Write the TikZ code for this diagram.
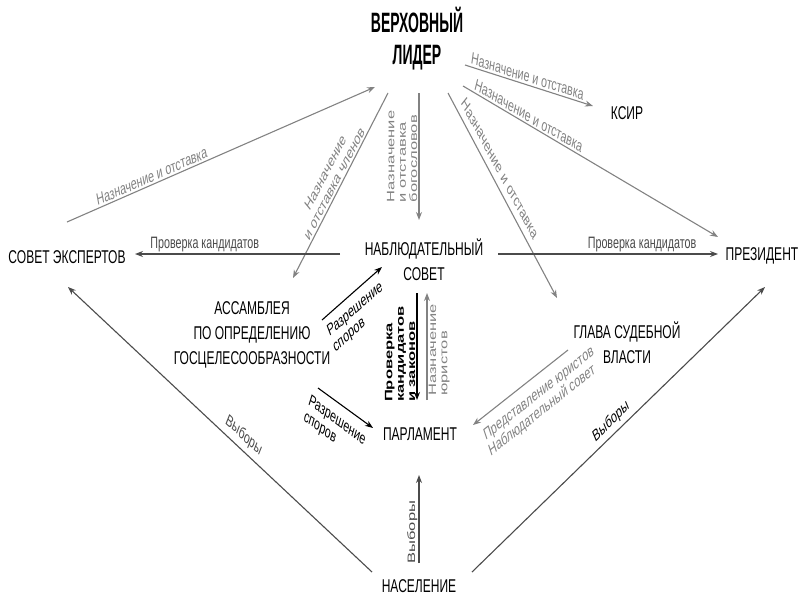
\documentclass[tikz,border=0pt]{standalone}
\usepackage{fontspec}
\setmainfont{Liberation Sans}
\usepackage{tikz}
\usetikzlibrary{arrows.meta}
\definecolor{mygray}{RGB}{130,130,130}
\definecolor{mydark}{RGB}{75,75,75}
\tikzset{
  squish/.style={xscale=0.65},
  box/.style={squish, align=center, inner sep=0pt, font=\fontsize{18.5}{25}\selectfont},
  title/.style={xscale=0.5, align=center, inner sep=0pt, font=\bfseries\fontsize{28}{32}\selectfont},
  lbl/.style={squish, inner sep=2pt, font=\fontsize{16.5}{17.5}\selectfont},
  gline/.style={->, draw=mygray},
  dline/.style={->, draw=mydark},
  bline/.style={->, draw=black},
  gtxt/.style={text=mygray},
  dtxt/.style={text=mydark},
  btxt/.style={text=black}
}

\begin{document}
\begin{tikzpicture}[x=1pt, y=-1pt, line width=1.1pt, >={Stealth[length=8pt,width=6pt]}]
\useasboundingbox (0,0) rectangle (803,597);
% organs
\node[title] (lider) at (417,39) {ВЕРХОВНЫЙ\\ЛИДЕР};
\node[box] (ksir) at (627,113) {КСИР};
\node[box] (ekspert) at (67,257) {СОВЕТ ЭКСПЕРТОВ};
\node[box] (nabl) at (424,260) {НАБЛЮДАТЕЛЬНЫЙ\\СОВЕТ};
\node[box] (prez) at (762,256) {ПРЕЗИДЕНТ};
\node[box] (assam) at (252,335) {АССАМБЛЕЯ\\ПО ОПРЕДЕЛЕНИЮ\\ГОСЦЕЛЕСООБРАЗНОСТИ};
\node[box] (glava) at (627,343) {ГЛАВА СУДЕБНОЙ\\ВЛАСТИ};
\node[box] (parl) at (420,434) {ПАРЛАМЕНТ};
\node[box] (nasel) at (419,586) {НАСЕЛЕНИЕ};

% appointments from the leader
\draw[gline] ([shift={(0,-35)}]ekspert.center) -- ([shift={(-42,48)}]lider.center)
  node[lbl, gtxt, pos=.28, above, rotate=15.9] (t1) {Назначение и отставка};
\draw[gline] ([shift={(-29,54)}]lider.center) -- ([shift={(41,-57)}]assam.center)
  node[xshift=-2pt, yshift=-3pt, lbl, gtxt, pos=.5, above, rotate=51.7, align=center] (t2) {Назначение\\и отставка членов};
\draw[gline] ([shift={(2,54)}]lider.center) -- ([shift={(-5,-40)}]nabl.center)
  node[lbl, gtxt, pos=.5, above, rotate=90, align=left] (t3) {Назначение\\и отставка\\богословов};
\draw[gline] ([shift={(31,54)}]lider.center) -- ([shift={(-70,-45)}]glava.center)
  node[xshift=5pt, yshift=-1pt, lbl, gtxt, pos=.39, above, rotate=-50.7] (t4) {Назначение и отставка};
\draw[gline] ([shift={(48,26)}]lider.center) -- ([shift={(-34,-7)}]ksir.center)
  node[lbl, gtxt, pos=.48, above, rotate=-11.8] (t5) {Назначение и отставка};
\draw[gline] ([shift={(46,47)}]lider.center) -- ([shift={(-44,-19)}]prez.center)
  node[lbl, gtxt, pos=.25, above, rotate=-21.1] (t6) {Назначение и отставка};

% guardian council
\draw[dline] ([shift={(-84,-6)}]nabl.center) -- ([shift={(68,-3)}]ekspert.center)
  node[lbl, dtxt, pos=.66, above] (t7) {Проверка кандидатов};
\draw[dline] ([shift={(74,-6)}]nabl.center) -- ([shift={(-44,-2)}]prez.center)
  node[lbl, dtxt, pos=.655, above] (t8) {Проверка кандидатов};
\draw[bline] ([shift={(70,-15)}]assam.center) -- ([shift={(-42,7)}]nabl.center)
  node[xshift=3pt, yshift=-5pt, lbl, btxt, pos=.45, below, rotate=29.9, align=left] (t9) {Разрешение\\споров};
\draw[bline] ([shift={(66,53)}]assam.center) -- ([shift={(-47,-6)}]parl.center)
  node[xshift=-3pt, yshift=-6pt, lbl, btxt, pos=.45, below, rotate=-25.3, align=left] (t10) {Разрешение\\споров};
\draw[bline] ([shift={(-7,33)}]nabl.center) -- ([shift={(-3,-34)}]parl.center)
  node[lbl, btxt, font=\bfseries\fontsize{16.5}{17.5}\selectfont, pos=.57, above, rotate=90, align=left] (t11) {Проверка\\кандидатов\\и законов};
\draw[gline] ([shift={(7,-34)}]parl.center) -- ([shift={(3,33)}]nabl.center)
  node[lbl, gtxt, pos=.47, below, rotate=90, align=left] (t12) {Назначение\\юристов};
\draw[gline] ([shift={(-59,7)}]glava.center) -- ([shift={(53,-9)}]parl.center)
  node[xshift=5pt, yshift=-6pt, lbl, gtxt, pos=.39, below, rotate=27.2, align=left] (t13) {Представление юристов\\Наблюдательный совет};

% elections
\draw[dline] ([shift={(0,-23)}]nasel.center) -- ([shift={(-1,41)}]parl.center)
  node[lbl, dtxt, pos=.35, above, rotate=90] (t14) {Выборы};
\draw[dline] ([shift={(-47,-14)}]nasel.center) -- ([shift={(1,30)}]ekspert.center)
  node[xshift=2pt, yshift=2pt, lbl, dtxt, pos=.44, above, rotate=-31.4] (t15) {Выборы};
\draw[dline] ([shift={(53,-14)}]nasel.center) -- ([shift={(3,31)}]prez.center)
  node[xshift=-1pt, yshift=2pt, lbl, btxt, pos=.49, above, rotate=32.3] (t16) {Выборы};
\end{tikzpicture}
\end{document}
